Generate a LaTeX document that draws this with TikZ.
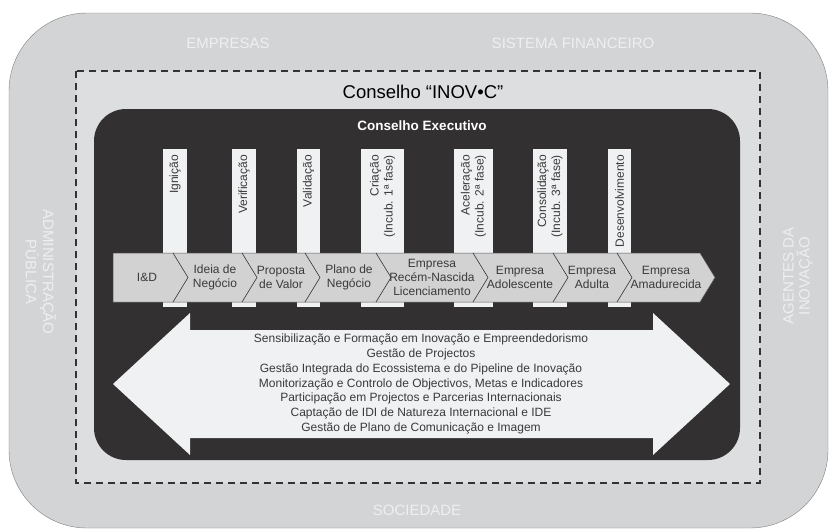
\documentclass[tikz,border=0pt]{standalone}
\usepackage{fontspec}
\setmainfont{Liberation Sans}
\definecolor{outergray}{HTML}{D3D4D5}
\definecolor{innergray}{HTML}{DDDEE0}
\definecolor{darkbox}{HTML}{323031}
\definecolor{paper}{HTML}{F0F1F3}
\definecolor{bandgray}{HTML}{D2D2D3}
\definecolor{inktext}{HTML}{3A3A3A}
\definecolor{paletext}{HTML}{EEEFF0}

\begin{document}
\begin{tikzpicture}[x=1pt,y=-1pt,
  sidelabel/.style={text=paletext,font=\fontsize{15}{16}\selectfont,align=center},
  stagelabel/.style={text=inktext,font=\fontsize{12}{14}\selectfont,align=center,inner sep=0pt},
  phaselabel/.style={text=inktext,font=\fontsize{12}{14}\selectfont,align=right,
    rotate=90,anchor=east,inner sep=0pt}]
\useasboundingbox (0,0) rectangle (830,531);
\draw[fill=outergray,draw=gray,rounded corners=78pt] (9,13) rectangle (828,528);
\draw[fill=innergray,draw=black!80,line width=1.6pt,dash pattern=on 7pt off 5pt]
  (76,71) rectangle (760,483);
\fill[darkbox,rounded corners=32pt] (94,109) rectangle (740,460);

\node[sidelabel] (firms) at (228,43) {EMPRESAS};
\node[sidelabel] (finance) at (573,43) {SISTEMA FINANCEIRO};
\node[sidelabel] (society) at (417,510) {SOCIEDADE};
\node[sidelabel,rotate=-90] (public) at (41,272) {ADMINISTRAÇÃO\\PÚBLICA};
\node[sidelabel,rotate=90] (agents) at (798,276) {AGENTES DA\\INOVAÇÃO};

\node[font=\fontsize{18.5}{20}\selectfont] (council) at (423,92) {Conselho “INOV•C”};
\node[text=white,font=\bfseries\fontsize{13.5}{16}\selectfont] (exec) at (422,126) {Conselho Executivo};

% fases
\foreach \xa/\xb/\id/\txt in {163/187/ign/Ignição,232/256/ver/Verificação,
    297/320/val/Validação,361/404/cri/{Criação\\(Incub. 1ª fase)},
    454/493/ace/{Aceleração\\(Incub. 2ª fase)},533/567/cons/{Consolidação\\(Incub. 3ª fase)},
    608/631/dev/Desenvolvimento}{
  \fill[paper] (\xa,149) rectangle (\xb,307);
  \node[phaselabel] (\id) at ({(\xa+\xb)/2},155) {\txt};
}

% etapas
\draw[fill=bandgray,draw=gray!70!black,line width=0.5pt]
  (113,253) -- (700,253) -- (715,277.5) -- (700,302) -- (113,302) -- cycle;
\foreach \b in {173,242,305,376,473,553,617}
  \draw[gray!40!black,line width=0.6pt] (\b,253) -- (\b+15,277.5) -- (\b,302);

\node[stagelabel] (rd) at (147,277.5) {I\&D};
\node[stagelabel] (idea) at (215,277.5) {Ideia de\\Negócio};
\node[stagelabel] (value) at (281,277.5) {Proposta\\de Valor};
\node[stagelabel] (plan) at (349,277.5) {Plano de\\Negócio};
\node[stagelabel] (newborn) at (432,277.5) {Empresa\\Recém-Nascida\\Licenciamento};
\node[stagelabel] (teen) at (520,277.5) {Empresa\\Adolescente};
\node[stagelabel] (adult) at (592,277.5) {Empresa\\Adulta};
\node[stagelabel] (mature) at (666,277.5) {Empresa\\Amadurecida};

% actividades
\fill[paper] (113,384) -- (190,313) -- (190,330) -- (653,330) -- (653,313) -- (730,384)
  -- (653,455) -- (653,438) -- (190,438) -- (190,455) -- cycle;
\node[text=inktext,font=\fontsize{12}{14.7}\selectfont,align=center] (tasks) at (421,384)
  {Sensibilização e Formação em Inovação e Empreendedorismo\\
   Gestão de Projectos\\
   Gestão Integrada do Ecossistema e do Pipeline de Inovação\\
   Monitorização e Controlo de Objectivos, Metas e Indicadores\\
   Participação em Projectos e Parcerias Internacionais\\
   Captação de IDI de Natureza Internacional e IDE\\
   Gestão de Plano de Comunicação e Imagem};
\end{tikzpicture}
\end{document}
